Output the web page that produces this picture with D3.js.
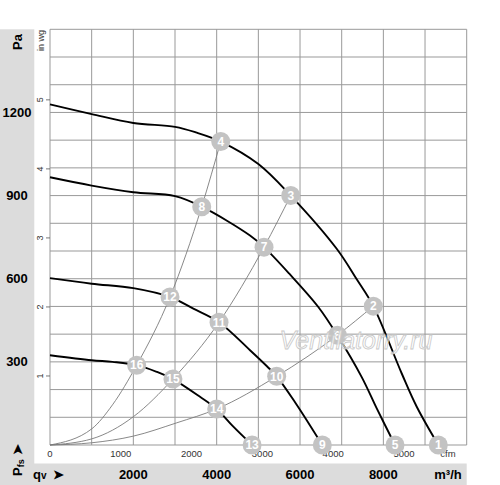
<!DOCTYPE html>
<html>
<head>
<meta charset="utf-8">
<script src="https://cdn.jsdelivr.net/npm/d3@7"></script>
<style>
  body { margin: 0; background: #fff; }
  text { font-family: "Liberation Sans", Arial, sans-serif; }
</style>
</head>
<body>
<svg id="chart" width="500" height="485"></svg>
<script>
// Tick labels
var flowTicks = [2000, 4000, 6000, 8000];        // m³/h, bottom strip
var paTicks = [300, 600, 900, 1200];             // Pa, left strip
var cfmTicks = [0, 1000, 2000, 3000, 4000, 5000];
var inwgTicks = [1, 2, 3, 4, 5];

// Fan curves [m³/h, Pa], one per speed step
var fan1 = [[0,1229],[1000,1194],[2000,1162],[3000,1148],[3500,1128],[4097,1095],[5000,1014],
            [5777,900],[6880,708],[7361,598],[7759,501],[8441,258],[8801,138],[9319,0]];
var fan2 = [[0,966],[1000,936],[2000,912],[3000,898],[3641,860],[4800,756],[5136,714],
            [5743,618],[6439,498],[6895,396],[7481,245],[7841,132],[8280,0]];
var fan3 = [[0,602],[1000,582],[2000,566],[2880,534],[3440,492],[4056,443],[4800,342],
            [5200,285],[5440,248],[5900,150],[6535,0]];
var fan4 = [[0,324],[1000,306],[1500,300],[2080,288],[2560,264],[2950,238],[3600,174],
            [4000,130],[4400,66],[4850,0]];

// System curves (thin lines from the origin)
var sysA = [[0,0],[1000,58],[1500,145],[2080,288],[2880,534],[3641,860],[4097,1095]];
var sysB = [[0,0],[1000,22],[2000,102],[2950,238],[4056,443],[5136,714],[5777,900]];
var sysC = [[0,0],[1000,8],[2000,32],[3040,80],[4000,130],[5440,248],[6895,396],[7759,501]];

// Operating points
var pointIds = [1, 2, 3, 4, 5, 6, 7, 8, 9, 10, 11, 12, 13, 14, 15, 16];
var pointQ = [9319, 7759, 5777, 4097, 8280, 6895, 5136, 3641, 6535, 5440, 4056, 2880, 4850, 4000, 2950, 2080];
var pointP = [0, 501, 900, 1095, 0, 396, 714, 860, 0, 248, 443, 534, 0, 130, 238, 288];

var svg = d3.select("#chart");

// plot box (note: "top" is taken by window.top, so use other names)
var plotL = 50, plotR = 466.7, plotT = 29.3, plotB = 445;

var x = d3.scaleLinear().domain([0, 10000]).range([plotL, plotR]);
var y = d3.scaleLinear().domain([0, 1500]).range([plotB, plotT]);
// secondary units
var xCfm = d3.scaleLinear().domain([0, 10000 / 1.699]).range([plotL, plotR]);
var yWg = d3.scaleLinear().domain([0, 1500 / 249.09]).range([plotB, plotT]);

// Grey strips
svg.append("rect").attr("x", 0).attr("y", plotT).attr("width", 34.3).attr("height", 485 - plotT)
    .attr("fill", "#dcdcdc");
svg.append("rect").attr("x", 0).attr("y", 463.5).attr("width", plotR).attr("height", 21.5)
    .attr("fill", "#dcdcdc");

// Grid
var grid = svg.append("g").attr("stroke", "#999").attr("stroke-width", 1);
grid.selectAll(".v").data(d3.range(0, 10001, 1000)).join("line").attr("class", "v")
    .attr("x1", function (d) { return x(d); }).attr("x2", function (d) { return x(d); })
    .attr("y1", plotT).attr("y2", plotB);
grid.selectAll(".h").data(d3.range(0, 1501, 100)).join("line").attr("class", "h")
    .attr("y1", function (d) { return y(d); }).attr("y2", function (d) { return y(d); })
    .attr("x1", plotL).attr("x2", plotR);

// in wg ticks on the left edge
svg.append("g").selectAll("line").data(inwgTicks).join("line")
    .attr("x1", plotL - 4).attr("x2", plotL)
    .attr("y1", function (d) { return yWg(d); }).attr("y2", function (d) { return yWg(d); })
    .attr("stroke", "#555").attr("stroke-width", 0.8);
svg.append("g").selectAll("text").data(inwgTicks).join("text")
    .attr("transform", function (d) { return "translate(43," + yWg(d) + ") rotate(-90)"; })
    .attr("text-anchor", "middle").attr("font-size", 9).attr("fill", "#333")
    .text(function (d) { return d; });
svg.append("text").attr("transform", "translate(43.5,30) rotate(-90)")
    .attr("text-anchor", "end").attr("font-size", 9).attr("fill", "#333").text("in wg");

// cfm labels under the plot
svg.append("g").selectAll("text").data(cfmTicks).join("text")
    .attr("x", function (d) { return xCfm(d); }).attr("y", 457)
    .attr("text-anchor", "middle").attr("font-size", 9.5).attr("fill", "#333")
    .text(function (d) { return d; });
svg.append("text").attr("x", 448).attr("y", 457).attr("text-anchor", "middle")
    .attr("font-size", 9.5).attr("fill", "#333").text("cfm");

// Pa labels
svg.append("g").selectAll("text").data(paTicks).join("text")
    .attr("x", 17).attr("y", function (d) { return y(d) + 4.5; })
    .attr("text-anchor", "middle").attr("font-size", 13).attr("font-weight", "bold")
    .text(function (d) { return d; });
svg.append("text").attr("transform", "translate(21.5,42) rotate(-90)")
    .attr("text-anchor", "middle").attr("font-size", 13).attr("font-weight", "bold").text("Pa");

// Pfs arrow (rotated, reading upward)
var pfs = svg.append("text").attr("transform", "translate(21.5,476) rotate(-90)")
    .attr("font-size", 13).attr("font-weight", "bold");
pfs.append("tspan").text("P");
pfs.append("tspan").attr("font-size", 9).attr("dy", 2).text("fs");
pfs.append("tspan").attr("dy", -2).attr("dx", 4).text("➤");

// flow labels
svg.append("g").selectAll("text").data(flowTicks).join("text")
    .attr("x", function (d) { return x(d); }).attr("y", 478.5)
    .attr("text-anchor", "middle").attr("font-size", 13).attr("font-weight", "bold")
    .text(function (d) { return d; });
var qv = svg.append("text").attr("x", 33).attr("y", 478.5)
    .attr("font-size", 13).attr("font-weight", "bold");
qv.append("tspan").text("q");
qv.append("tspan").attr("font-size", 10).text("v");
qv.append("tspan").attr("dx", 6).text("➤");
svg.append("text").attr("x", 448).attr("y", 478.5).attr("text-anchor", "middle")
    .attr("font-size", 13).attr("font-weight", "bold").text("m³/h");

// Curves
var sysLine = d3.line()
    .x(function (d) { return x(d[0]); })
    .y(function (d) { return y(d[1]); })
    .curve(d3.curveMonotoneX);
var fanLine = d3.line()
    .x(function (d) { return x(d[0]); })
    .y(function (d) { return y(d[1]); })
    .curve(d3.curveCatmullRom.alpha(0.5));

svg.append("g").selectAll("path").data([sysA, sysB, sysC]).join("path")
    .attr("d", sysLine).attr("fill", "none").attr("stroke", "#7a7a7a").attr("stroke-width", 0.9);

svg.append("g").selectAll("path").data([fan1, fan2, fan3, fan4]).join("path")
    .attr("d", fanLine).attr("fill", "none").attr("stroke", "#000").attr("stroke-width", 1.9);

// Operating point markers
var pts = pointIds.map(function (id, i) { return { id: id, q: pointQ[i], p: pointP[i] }; });
var mark = svg.append("g").selectAll("g").data(pts).join("g")
    .attr("transform", function (d) { return "translate(" + x(d.q) + "," + y(d.p) + ")"; });
mark.append("circle").attr("r", 9.5).attr("fill", "#c3c3c3");
mark.append("text").attr("text-anchor", "middle").attr("y", 4.3)
    .attr("font-size", 12).attr("font-weight", "bold").attr("fill", "#fff")
    .text(function (d) { return d.id; });

// Watermark
svg.append("text").attr("x", 356).attr("y", 349).attr("text-anchor", "middle")
    .attr("font-size", 25).attr("font-style", "italic")
    .attr("fill", "#fff").attr("fill-opacity", 0.65)
    .attr("stroke", "#c8c8c8").attr("stroke-width", 0.8)
    .text("Ventilatorry.ru");
</script>
</body>
</html>
